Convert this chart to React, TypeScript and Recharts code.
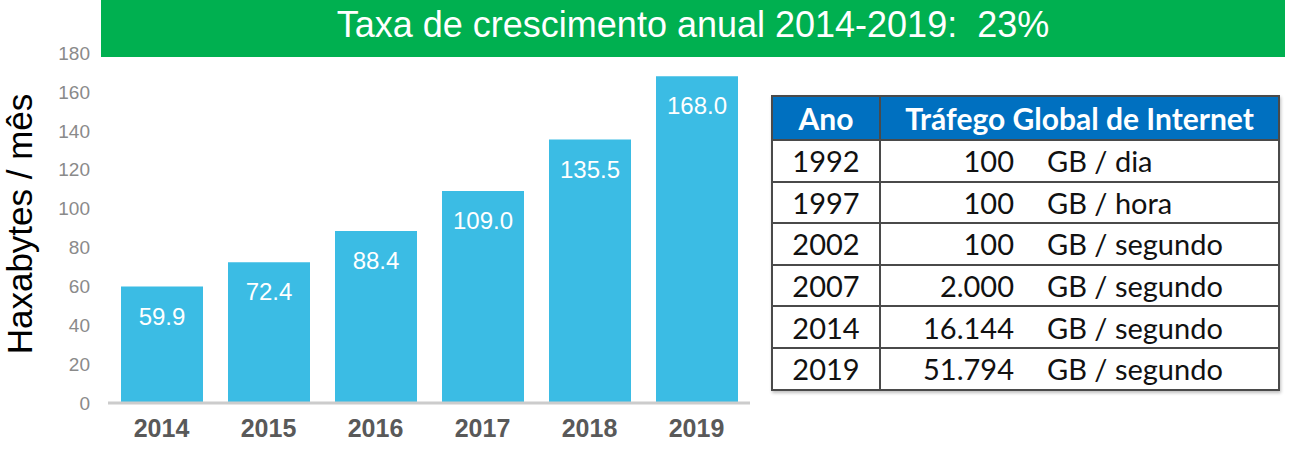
import React from 'react';
import { BarChart, Bar, XAxis, YAxis, LabelList, Label } from 'recharts';

const years = ['2014', '2015', '2016', '2017', '2018', '2019'];
const traffic = [59.9, 72.4, 88.4, 109.0, 135.5, 168.0];
const yTicks = [0, 20, 40, 60, 80, 100, 120, 140, 160, 180];

const tableYears = ['1992', '1997', '2002', '2007', '2014', '2019'];
const tableValues = ['100', '100', '100', '2.000', '16.144', '51.794'];
const tableUnits = ['GB / dia', 'GB / hora', 'GB / segundo', 'GB / segundo', 'GB / segundo', 'GB / segundo'];

const chartData = years.map((year, i) => ({ year, value: traffic[i] }));

const cellBorder = '2px solid #4a4a4a';

const YLabel = (props: any) => {
  const { viewBox } = props;
  const x = viewBox.x - 15;
  const y = viewBox.y + viewBox.height / 2 - 4;
  return (
    <text
      x={x}
      y={y}
      transform={`rotate(-90, ${x}, ${y})`}
      textAnchor="middle"
      fontSize={35}
      fill="#000"
      fontFamily="Liberation Sans, Arial, sans-serif"
    >
      Haxabytes / mês
    </text>
  );
};

export default function App() {
  return (
    <div
      style={{
        position: 'absolute',
        left: 0,
        top: 0,
        width: 1302,
        height: 462,
        background: '#fff',
        fontFamily: 'Liberation Sans, Arial, sans-serif',
        overflow: 'hidden',
      }}
    >
      <div
        style={{
          position: 'absolute',
          left: 101,
          top: 0,
          width: 1184,
          height: 57,
          background: '#00B050',
          color: '#fff',
          fontSize: 36,
          lineHeight: '49px',
          textAlign: 'center',
          whiteSpace: 'pre',
        }}
      >
        {'Taxa de crescimento anual 2014-2019:  23%'}
      </div>

      <div style={{ position: 'absolute', left: 0, top: 0 }}>
        <BarChart
          width={760}
          height={462}
          data={chartData}
          margin={{ top: 53, right: 10, bottom: 29, left: 47 }}
        >
          <XAxis
            dataKey="year"
            height={30}
            axisLine={{ stroke: '#cccccc', strokeWidth: 3 }}
            tickLine={false}
            tickMargin={10}
            tick={{ fontSize: 25, fontWeight: 'bold', fill: '#595959' }}
          />
          <YAxis
            domain={[0, 180]}
            ticks={yTicks}
            width={61}
            axisLine={false}
            tickLine={false}
            tickMargin={12}
            tick={{ fontSize: 19, fill: '#8a8a8a' }}
          >
            <Label content={YLabel} />
          </YAxis>
          <Bar dataKey="value" fill="#3BBCE4" barSize={82} isAnimationActive={false}>
            <LabelList
              dataKey="value"
              position="insideTop"
              offset={21}
              fill="#ffffff"
              fontSize={24}
              formatter={(v: any) => Number(v).toFixed(1)}
            />
          </Bar>
        </BarChart>
      </div>

      <table
        style={{
          position: 'absolute',
          left: 771,
          top: 95,
          width: 509,
          height: 294,
          borderCollapse: 'collapse',
          fontFamily: 'Lato, "Open Sans", sans-serif',
          fontSize: 29,
          color: '#111',
          boxShadow: '1px 2px 3px rgba(0,0,0,0.25)',
        }}
      >
        <thead>
          <tr style={{ height: 44, background: '#0070C0', color: '#fff', fontWeight: 'bold', fontSize: 30 }}>
            <th style={{ width: 106, border: cellBorder, padding: 0 }}>Ano</th>
            <th colSpan={2} style={{ border: cellBorder, padding: 0 }}>
              Tráfego Global de Internet
            </th>
          </tr>
        </thead>
        <tbody>
          {tableYears.map((yr, i) => (
            <tr key={yr} style={{ height: 41.6 }}>
              <td style={{ border: cellBorder, textAlign: 'center', padding: 0 }}>{yr}</td>
              <td
                style={{
                  borderTop: cellBorder,
                  borderBottom: cellBorder,
                  textAlign: 'right',
                  width: 133,
                  padding: 0,
                }}
              >
                {tableValues[i]}
              </td>
              <td
                style={{
                  borderTop: cellBorder,
                  borderBottom: cellBorder,
                  borderRight: cellBorder,
                  paddingLeft: 33,
                  paddingTop: 0,
                  paddingBottom: 0,
                  textAlign: 'left',
                }}
              >
                {tableUnits[i]}
              </td>
            </tr>
          ))}
        </tbody>
      </table>
    </div>
  );
}
